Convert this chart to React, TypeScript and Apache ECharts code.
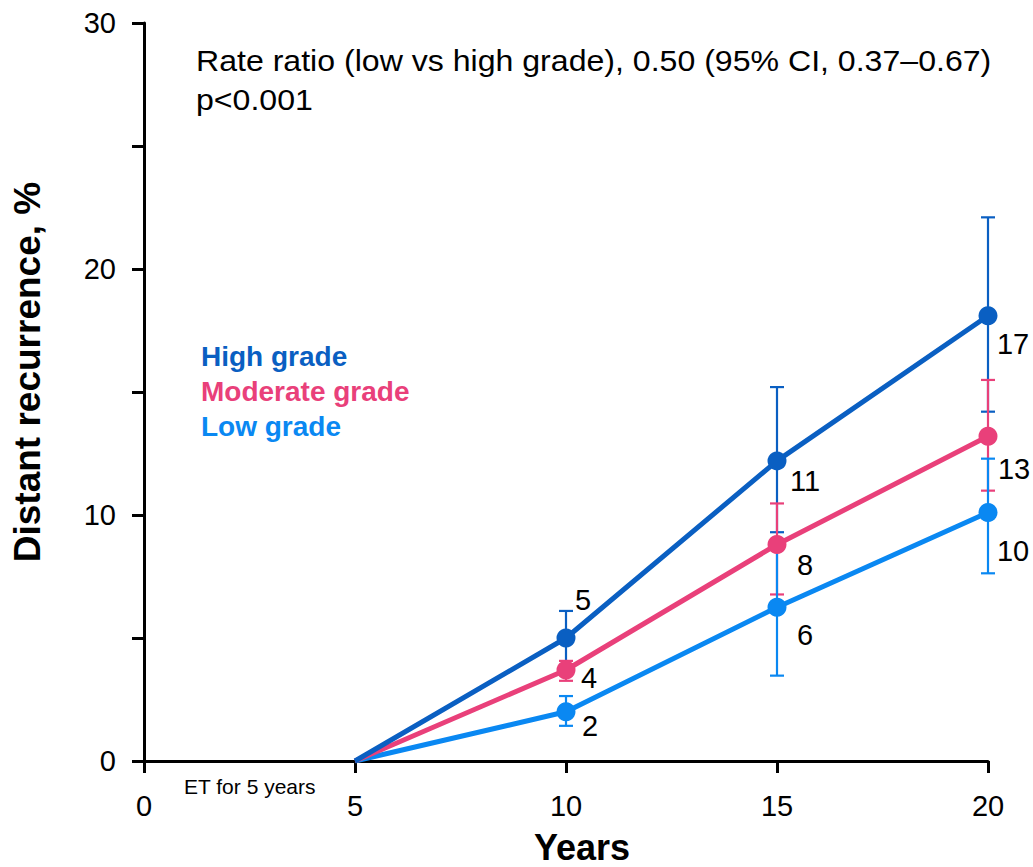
import React, { useEffect, useRef } from "react";
import * as echarts from "echarts";

const FONT = "'Liberation Sans', Arial, Helvetica, sans-serif";

const years = [5, 10, 15, 20];
const seriesNames = ["High grade", "Moderate grade", "Low grade"];
const colors = ["#0a5fc2", "#e9407a", "#0a88f2"];

const highValues = [0, 5.0, 12.2, 18.1];
const moderateValues = [0, 3.7, 8.8, 13.2];
const lowValues = [0, 2.0, 6.25, 10.1];

const highLower = [null, 3.9, 9.3, 14.2];
const highUpper = [null, 6.1, 15.2, 22.1];
const moderateLower = [null, 3.26, 6.77, 10.99];
const moderateUpper = [null, 4.07, 10.47, 15.49];
const lowLower = [null, 1.43, 3.47, 7.63];
const lowUpper = [null, 2.64, 9.0, 12.29];

const highLabels = ["", "5", "11", "17"];
const moderateLabels = ["", "4", "8", "13"];
const lowLabels = ["", "2", "6", "10"];

const xTicks = [0, 5, 10, 15, 20];
const yTicks = [0, 10, 20, 30];

const annotationLine1 = "Rate ratio (low vs high grade), 0.50 (95% CI, 0.37\u20130.67)";
const annotationLine2 = "p<0.001";
const etLabel = "ET for 5 years";

// label offsets (pixels) relative to each marker, per series
const labelOffsets = [
  [null, [17, -38], [28, 20], [25, 28]],
  [null, [23, 8], [28, 20], [26, 33]],
  [null, [24, 14], [28, 28], [25, 38]],
];

export default function App() {
  const ref = useRef<HTMLDivElement>(null);

  useEffect(() => {
    document.body.style.margin = "0";
    if (!ref.current) return;
    const chart = echarts.init(ref.current, undefined, { renderer: "svg" });

    const values = [highValues, moderateValues, lowValues];
    const lowers = [highLower, moderateLower, lowLower];
    const uppers = [highUpper, moderateUpper, lowUpper];
    const labels = [highLabels, moderateLabels, lowLabels];

    const errorSeries = values.map((_, si) => ({
      type: "custom",
      name: seriesNames[si] + " CI",
      z: 2 + si,
      silent: true,
      data: years
        .map((x, i) => [x, lowers[si][i], uppers[si][i]])
        .filter((d) => d[1] !== null),
      renderItem: (params: any, api: any) => {
        const x = api.value(0);
        const lo = api.coord([x, api.value(1)]);
        const hi = api.coord([x, api.value(2)]);
        const half = 7;
        const style = { stroke: colors[si], lineWidth: 2.2 };
        return {
          type: "group",
          children: [
            { type: "line", shape: { x1: lo[0], y1: lo[1], x2: hi[0], y2: hi[1] }, style },
            { type: "line", shape: { x1: hi[0] - half, y1: hi[1], x2: hi[0] + half, y2: hi[1] }, style },
            { type: "line", shape: { x1: lo[0] - half, y1: lo[1], x2: lo[0] + half, y2: lo[1] }, style },
          ],
        };
      },
    }));

    const lineSeries = values.map((vals, si) => ({
      type: "line",
      name: seriesNames[si],
      z: 10 - si,
      color: colors[si],
      lineStyle: { width: 5, color: colors[si] },
      symbol: "circle",
      symbolSize: 19,
      itemStyle: { color: colors[si] },
      data: years.map((x, i) => {
        const off = labelOffsets[si][i];
        const item: any = { value: [x, vals[i]] };
        if (i === 0) {
          item.symbol = "none";
          item.label = { show: false };
        } else {
          item.label = {
            show: true,
            position: "inside",
            offset: off,
            formatter: labels[si][i],
            color: "#000",
            fontSize: 29,
            fontFamily: FONT,
            align: "center",
            verticalAlign: "middle",
          };
        }
        return item;
      }),
    }));

    chart.setOption({
      animation: false,
      backgroundColor: "#fff",
      grid: { left: 144, right: 45, top: 23, bottom: 106, containLabel: false, outerBoundsMode: "none" },
      legend: {
        orient: "vertical",
        left: 191,
        top: 337,
        itemGap: 7,
        itemWidth: 0,
        itemHeight: 0,
        icon: "circle",
        selectedMode: false,
        data: seriesNames.map((n, i) => ({
          name: n,
          textStyle: { color: colors[i], fontWeight: "bold", fontSize: 28, fontFamily: FONT },
        })),
      },
      xAxis: {
        type: "value",
        min: xTicks[0],
        max: xTicks[xTicks.length - 1],
        interval: 5,
        name: "Years",
        nameLocation: "middle",
        nameGap: 69,
        nameTextStyle: {
          fontSize: 36,
          lineHeight: 34,
          fontWeight: "bold",
          color: "#000",
          fontFamily: FONT,
          padding: [0, 0, 0, 32],
        },
        axisLine: { lineStyle: { color: "#000", width: 3 } },
        axisTick: { show: true, length: 12, lineStyle: { color: "#000", width: 3 } },
        axisLabel: { fontSize: 29, color: "#000", fontFamily: FONT, margin: 30 },
        splitLine: { show: false },
      },
      yAxis: {
        type: "value",
        min: 0,
        max: 30,
        interval: 5,
        name: "Distant recurrence, %",
        nameLocation: "middle",
        nameGap: 98,
        nameTextStyle: { fontSize: 37, fontWeight: "bold", color: "#000", fontFamily: FONT, padding: [0, 0, 0, 40] },
        axisLine: { show: true, lineStyle: { color: "#000", width: 3 } },
        axisTick: { show: true, length: 12, lineStyle: { color: "#000", width: 3 } },
        axisLabel: {
          fontSize: 29,
          color: "#000",
          fontFamily: FONT,
          margin: 28,
          formatter: (v: number) => (yTicks.includes(v) ? String(v) : ""),
        },
        splitLine: { show: false },
      },
      graphic: [
        {
          type: "text",
          x: 196,
          y: 46,
          scaleX: 1.07,
          style: { text: annotationLine1, fontSize: 30, fill: "#000", fontFamily: FONT },
        },
        {
          type: "text",
          x: 196,
          y: 85,
          scaleX: 1.07,
          style: { text: annotationLine2, fontSize: 30, fill: "#000", fontFamily: FONT },
        },
        {
          type: "text",
          left: 184,
          top: 776,
          style: { text: etLabel, fontSize: 21, fill: "#000", fontFamily: FONT },
        },
      ],
      series: [...errorSeries, ...lineSeries],
    });

    return () => chart.dispose();
  }, []);

  return <div ref={ref} style={{ width: 1033, height: 867 }} />;
}
